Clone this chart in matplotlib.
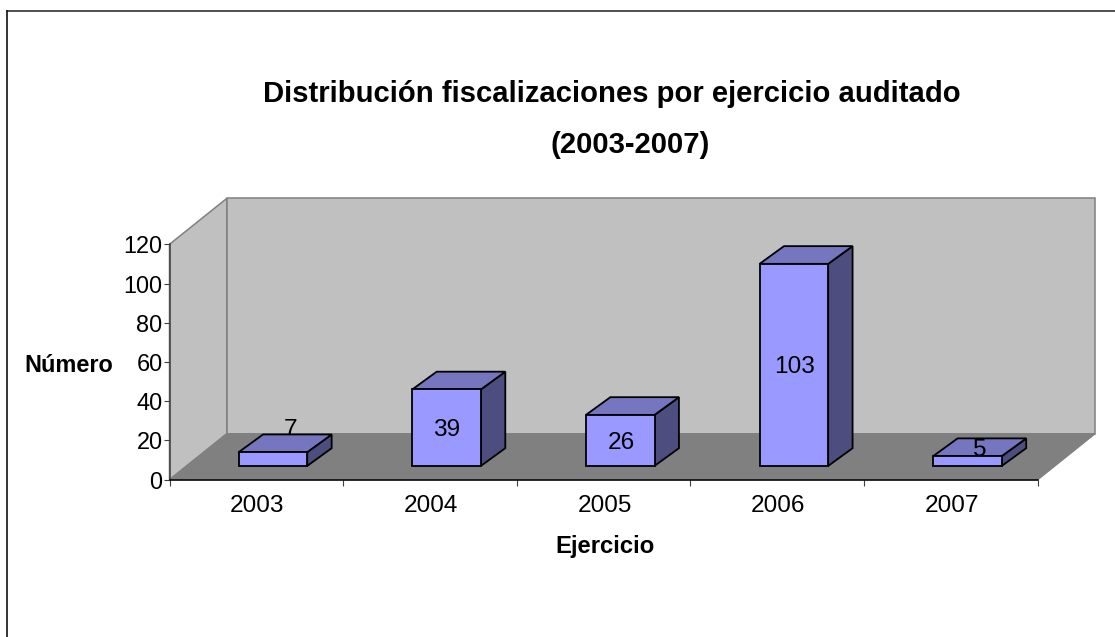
import matplotlib
matplotlib.use("Agg")
import matplotlib.pyplot as plt
from matplotlib.patches import Polygon
from matplotlib.lines import Line2D
from matplotlib.transforms import ScaledTranslation

categories = ["2003", "2004", "2005", "2006", "2007"]
values = [7, 39, 26, 103, 5]
y_ticks = [0, 20, 40, 60, 80, 100, 120]

W, H = 1115, 637
plt.rcParams["font.family"] = ["Liberation Sans", "DejaVu Sans"]
fig = plt.figure(figsize=(W / 100, H / 100), dpi=100, facecolor="white")

# plot box in pixels (top-left origin)
L, R, B, T = 169.5, 1037.7, 479.7, 244.3
ax = fig.add_axes([L / W, 1 - B / H, (R - L) / W, (B - T) / H])
ax.set_xlim(-0.5, 4.5)
ax.set_ylim(0, 120)
ax.patch.set_alpha(0)
for s in ("top", "right"):
    ax.spines[s].set_visible(False)
ax.spines["left"].set_linewidth(1.1)
ax.spines["left"].set_color("#404040")
ax.spines["bottom"].set_linewidth(1.1)
ax.spines["left"].set_zorder(6)
ax.spines["bottom"].set_zorder(6)

# oblique depth: one full depth unit in data coordinates
DX = 57.4 / ((R - L) / 5)
DY = 46.0 / ((B - T) / 120)


def pt(x, y, dx=0.0, dy=None):
    dy = dx if dy is None else dy
    return (x + dx * DX, y + dy * DY)


# walls and floor
x0, x1 = -0.5, 4.5
ytop = y_ticks[-1]
ax.add_patch(Polygon([pt(x0, 0), pt(x0, 0, 1), pt(x0, ytop, 1), pt(x0, ytop)],
                     fc="#C0C0C0", ec="#808080", lw=1.1, clip_on=False, zorder=1))
ax.add_patch(Polygon([pt(x0, 0, 1), pt(x1, 0, 1), pt(x1, ytop, 1), pt(x0, ytop, 1)],
                     fc="#C0C0C0", ec="#808080", lw=1.1, clip_on=False, zorder=1))
ax.add_patch(Polygon([pt(x0, 0), pt(x1, 0), pt(x1, 0, 1), pt(x0, 0, 1)],
                     fc="#808080", ec="#808080", lw=1.0, clip_on=False, zorder=2))

# 3-D bars
BW = 0.395
DX0, DX1 = 0.29, 0.715
DY0, DY1 = 0.30, 0.685
EC = dict(ec="black", lw=1.3, joinstyle="miter", clip_on=False)
label_off = {0: (18, 32), 1: (0, 0), 4: (11, 13)}
for i, v in enumerate(values):
    xa, xb = i - BW / 2, i + BW / 2
    z = 3 + i * 0.01
    ax.add_patch(Polygon([pt(xb, 0, DX0, DY0), pt(xb, 0, DX1, DY1), pt(xb, v, DX1, DY1), pt(xb, v, DX0, DY0)],
                         fc="#4D4D80", zorder=z + 0.5, **EC))
    ax.add_patch(Polygon([pt(xa, v, DX0, DY0), pt(xb, v, DX0, DY0), pt(xb, v, DX1, DY1), pt(xa, v, DX1, DY1)],
                         fc="#7676C0", zorder=z + 0.5, **EC))
    ax.add_patch(Polygon([pt(xa, 0, DX0, DY0), pt(xb, 0, DX0, DY0), pt(xb, v, DX0, DY0), pt(xa, v, DX0, DY0)],
                         fc="#9999FF", zorder=z + 0.5, **EC))
    off = label_off.get(i, (1, 0))
    cx, cy = pt(i, v / 2, DX0, DY0)
    ax.annotate(str(v), (cx, cy), xytext=(off[0] * 0.72, off[1] * 0.72),
                textcoords="offset points", ha="center", va="center_baseline",
                fontsize=17.6, color="black", annotation_clip=False,
                zorder=3.2 if i == 0 else 4)

ax.set_yticks(y_ticks)
ax.set_xticks([i + 0.5 for i in range(-1, 5)])
ax.set_xticklabels([])
ax.set_xticks(range(5), categories, minor=True)
ax.tick_params(axis="x", which="major", length=4, width=0.8, color="#404040")
ax.tick_params(axis="x", which="minor", length=0, pad=11, labelsize=17.6)
ax.tick_params(axis="y", length=4, width=0.8, pad=1, labelsize=16.9, color="#404040")
nudge = ScaledTranslation(1 / 100, 0, fig.dpi_scale_trans)
for lab in ax.get_xticklabels(minor=True):
    lab.set_transform(lab.get_transform() + nudge)


def ptext(x, y, s, size, **kw):
    fig.text(x / W, 1 - y / H, s, ha="center", va="center", fontsize=size,
             fontweight="bold", **kw)


ptext(611.5, 94, "Distribución fiscalizaciones por ejercicio auditado", 21.1)
ptext(630, 145, "(2003-2007)", 21.1)
ptext(69, 365, "Número", 16.9)
ptext(605.5, 547, "Ejercicio", 17.2)

# outer frame: only top and left edges fall inside the picture
fig.add_artist(Line2D([6.5 / W, 1], [1 - 10.5 / H] * 2, color="#303030", lw=1.2))
fig.add_artist(Line2D([6.5 / W] * 2, [0, 1 - 10.5 / H], color="#101010", lw=1.2))

fig.savefig("out.png", dpi=100)
